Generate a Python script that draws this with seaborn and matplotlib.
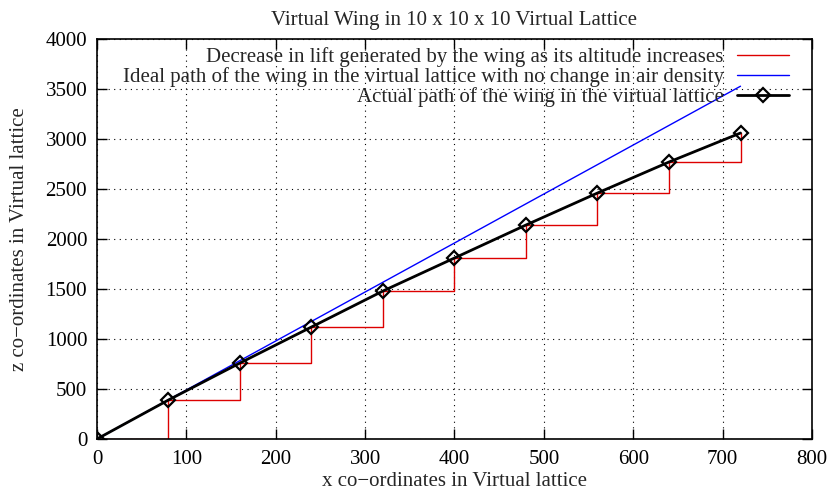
import numpy as np
import pandas as pd
import seaborn as sns
import matplotlib.pyplot as plt

# x positions of the wing (every 80 units in the lattice)
x_pos = [0, 80, 160, 240, 320, 400, 480, 560, 640, 720]
# actual z reached by the wing
z_actual = [0, 390, 760, 1120, 1480, 1810, 2140, 2460, 2770, 3060]
# ideal z with no change in air density
z_ideal = [0, 392, 784, 1176, 1568, 1960, 2352, 2744, 3136, 3528]

df = pd.DataFrame({'x': x_pos, 'actual': z_actual, 'ideal': z_ideal})

sns.set_theme(style='ticks')
plt.rcParams['font.family'] = ['Liberation Serif', 'DejaVu Serif']
plt.rcParams['font.size'] = 15

fig = plt.figure(figsize=(8.33, 4.97), dpi=100)
ax = fig.add_axes([0.1164, 0.1167, 0.8584, 0.8048])

#red steps = lost lift
sns.lineplot(data=df, x='x', y='actual', ax=ax, color='#dd0000', linewidth=1,
             drawstyle='steps-post',
             label='Decrease in lift generated by the wing as its altitude increases')
sns.lineplot(data=df, x='x', y='ideal', ax=ax, color='#0000ff', linewidth=1,
             label='Ideal path of the wing in the virtual lattice with no change in air density')
sns.lineplot(data=df, x='x', y='actual', ax=ax, color='black', linewidth=2,
             marker='D', markersize=7.5, markerfacecolor='none', markeredgecolor='black',
             markeredgewidth=1.6,
             label='Actual path of the wing in the virtual lattice')

ax.set_xlim(0, 800)
ax.set_ylim(0, 4000)
ax.set_xticks(np.arange(0, 801, 100))
ax.set_yticks(np.arange(0, 4001, 500))
ax.grid(True, color='black', linestyle=(0, (1, 4)), linewidth=0.8)
ax.tick_params(direction='in', length=7, width=1, top=True, right=True,
               labelsize=15, colors='black')
ax.tick_params(axis='x', pad=8)
ax.tick_params(axis='y', pad=7)
for s in ax.spines.values():
    s.set_linewidth(1.2)
    s.set_color('black')

ax.set_title('Virtual Wing in 10 x 10 x 10 Virtual Lattice', fontsize=15, pad=10)
ax.set_xlabel('x co\u2212ordinates in Virtual lattice', fontsize=15, labelpad=2)
ax.set_ylabel('z co\u2212ordinates in Virtual lattice', fontsize=15, labelpad=12)

leg = ax.legend(loc='upper right', bbox_to_anchor=(0.98, 1.0), borderaxespad=0,
                markerfirst=False, frameon=False, fontsize=15,
                handlelength=2.5, handletextpad=0.65, labelspacing=0)

fig.savefig('out.png', dpi=100)
